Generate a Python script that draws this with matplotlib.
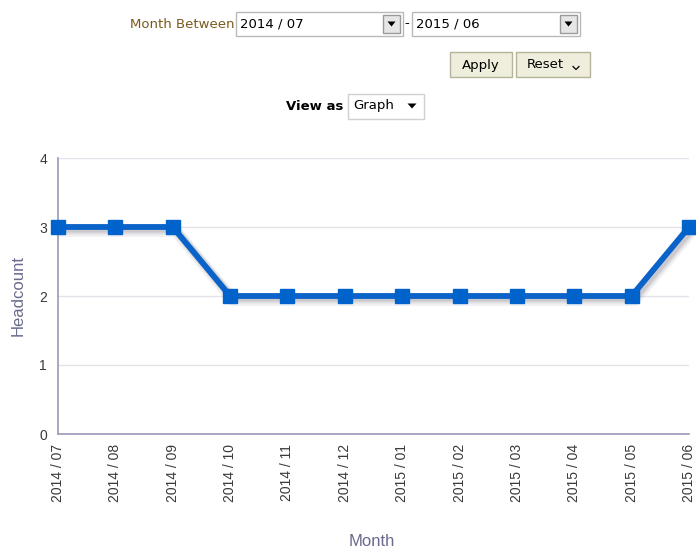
import matplotlib
matplotlib.use("Agg")
import matplotlib.pyplot as plt
from matplotlib.patches import Rectangle, Polygon
from matplotlib.lines import Line2D

months = ["2014 / 07", "2014 / 08", "2014 / 09", "2014 / 10", "2014 / 11", "2014 / 12",
          "2015 / 01", "2015 / 02", "2015 / 03", "2015 / 04", "2015 / 05", "2015 / 06"]
headcount = [3, 3, 3, 2, 2, 2, 2, 2, 2, 2, 2, 3]
yticks = [0, 1, 2, 3, 4]

W, H = 696, 550
fig = plt.figure(figsize=(W / 100, H / 100), dpi=100)
fig.patch.set_facecolor("white")

def fx(x):
    return x / W

def fy(y):
    return 1 - y / H

def box(x0, y0, x1, y1, fc="white", ec="#b9b9b9", lw=1.0):
    fig.patches.append(Rectangle((fx(x0), fy(y1)), fx(x1) - fx(x0), fy(y0) - fy(y1),
                                 transform=fig.transFigure, facecolor=fc, edgecolor=ec, lw=lw))

def tri(cx, cy, w=8, h=5, color="black"):
    fig.patches.append(Polygon([(fx(cx - w / 2), fy(cy - h / 2)), (fx(cx + w / 2), fy(cy - h / 2)),
                                (fx(cx), fy(cy + h / 2))], closed=True,
                               transform=fig.transFigure, facecolor=color, edgecolor="none"))

wfont = "DejaVu Sans"
fs = 9.5
# Header widgets
fig.text(fx(234), fy(24), "Month Between", ha="right", va="center", fontsize=fs,
         color="#7a5a1c", family=wfont)
box(236, 12, 403, 36)
fig.text(fx(240), fy(24), months[0], ha="left", va="center", fontsize=fs, color="black", family=wfont)
box(383, 15, 400, 33, fc="#e6e6e6", ec="#9a9a9a")
tri(391.5, 24)
fig.text(fx(407), fy(24), "-", ha="center", va="center", fontsize=fs, color="black", family=wfont)
box(412, 12, 580, 36)
fig.text(fx(416), fy(24), months[-1], ha="left", va="center", fontsize=fs, color="black", family=wfont)
box(560, 15, 577, 33, fc="#e6e6e6", ec="#9a9a9a")
tri(568.5, 24)

box(450, 52, 512, 77, fc="#efeedd", ec="#b5b39a")
fig.text(fx(481), fy(65), "Apply", ha="center", va="center", fontsize=fs, color="black", family=wfont)
box(516, 52, 590, 77, fc="#efeedd", ec="#b5b39a")
fig.text(fx(545), fy(65), "Reset", ha="center", va="center", fontsize=fs, color="black", family=wfont)
fig.lines.append(Line2D([fx(573), fx(576), fx(579)], [fy(66.5), fy(69.5), fy(66.5)],
                        transform=fig.transFigure, color="black", lw=0.9))

fig.text(fx(343), fy(106), "View as", ha="right", va="center", fontsize=fs, color="black",
         family=wfont, fontweight="bold")
box(348, 94, 424, 119, ec="#d0d0d0")
fig.text(fx(353), fy(106), "Graph", ha="left", va="center", fontsize=fs, color="black", family=wfont)
tri(412, 106, w=9, h=5)

# Chart
ax = fig.add_axes([fx(58), fy(434), fx(689) - fx(58), fy(158) - fy(434)])
x = list(range(len(months)))

# shadow
for off, a, lw in [(4, 0.07, 12), (3, 0.10, 9), (2.5, 0.14, 6)]:
    ax.plot([xi + 0.05 for xi in x], [v - off * 0.0145 for v in headcount], color="#444455",
            lw=lw * 0.72, alpha=a, solid_capstyle="round", solid_joinstyle="round", zorder=2,
            clip_on=False)
ax.plot(x, headcount, color="#0a63c8", lw=4.2, solid_joinstyle="round", zorder=3, clip_on=False)
ax.plot(x, headcount, linestyle="none", marker="s", markersize=10, color="#0063cc",
        markeredgecolor="#0063cc", zorder=4, clip_on=False)

ax.set_xlim(0, len(months) - 1)
ax.set_ylim(0, 4)
ax.set_yticks(yticks)
ax.set_xticks(x)
ax.set_xticklabels(months, rotation=90, fontsize=10, color="#3a3a3a", family="Liberation Sans")
ax.set_yticklabels([str(t) for t in yticks], fontsize=10, color="#3a3a3a", family="Liberation Sans")
ax.tick_params(axis="both", length=0, pad=7)
ax.tick_params(axis="y", pad=8)
ax.grid(axis="y", color="#e2e2ea", lw=1)
ax.set_axisbelow(True)
for s in ["top", "right"]:
    ax.spines[s].set_visible(False)
for s in ["left", "bottom"]:
    ax.spines[s].set_color("#9a9ab8")
    ax.spines[s].set_linewidth(1.2)

fig.text(fx(18), fy(295), "Headcount", rotation=90, ha="center", va="center", fontsize=12,
         color="#6a6a8e", family="Liberation Sans")
fig.text(fx(372), fy(541), "Month", ha="center", va="center", fontsize=12,
         color="#6a6a8e", family="Liberation Sans")

fig.savefig("out.png", dpi=100, facecolor="white")
